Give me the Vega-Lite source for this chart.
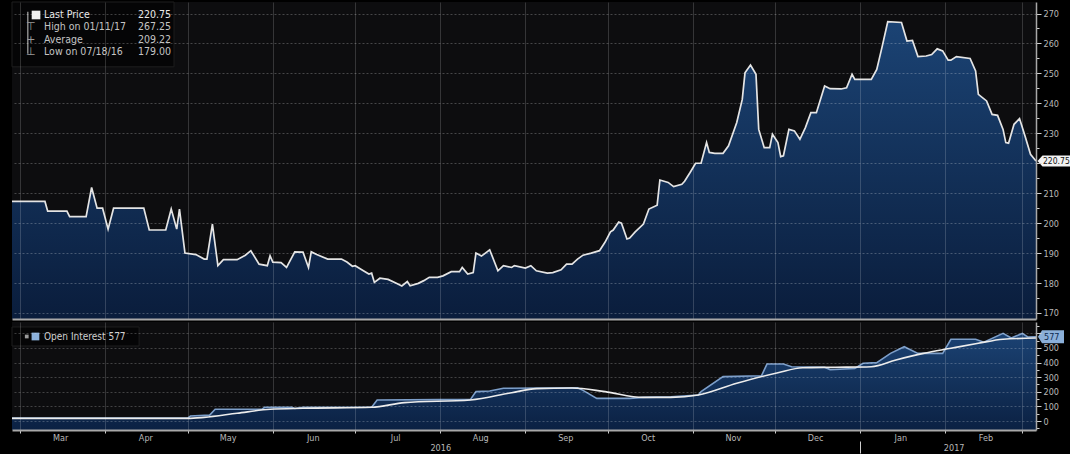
{
  "$schema": "https://vega.github.io/schema/vega-lite/v6.json",
  "background": "#000000",
  "padding": {"left": 8, "top": 1, "right": 0, "bottom": 0},
  "config": {
    "view": {"stroke": null, "fill": "#0d0d0f"},
    "font": "Liberation Sans Narrow, DejaVu Sans Condensed, sans-serif",
    "concat": {"spacing": 3}
  },
  "datasets": {
    "price": [
      {"date": "2016-02-27T00:00", "price": 207.25},
      {"date": "2016-03-10T00:00", "price": 207.25},
      {"date": "2016-03-11T00:00", "price": 204},
      {"date": "2016-03-18T00:00", "price": 204},
      {"date": "2016-03-19T00:00", "price": 202.2},
      {"date": "2016-03-25T00:00", "price": 202.2},
      {"date": "2016-03-27T00:00", "price": 211.9},
      {"date": "2016-03-29T00:00", "price": 205},
      {"date": "2016-03-31T00:00", "price": 205},
      {"date": "2016-04-02T00:00", "price": 198},
      {"date": "2016-04-04T00:00", "price": 205},
      {"date": "2016-04-15T00:00", "price": 205},
      {"date": "2016-04-17T00:00", "price": 197.7},
      {"date": "2016-04-23T00:00", "price": 197.7},
      {"date": "2016-04-25T00:00", "price": 204.7},
      {"date": "2016-04-27T00:00", "price": 198},
      {"date": "2016-04-28T00:00", "price": 204.7},
      {"date": "2016-04-30T00:00", "price": 190},
      {"date": "2016-05-04T00:00", "price": 189.5},
      {"date": "2016-05-07T00:00", "price": 188},
      {"date": "2016-05-08T00:00", "price": 188},
      {"date": "2016-05-10T00:00", "price": 199.7},
      {"date": "2016-05-12T00:00", "price": 185.8},
      {"date": "2016-05-14T00:00", "price": 187.8},
      {"date": "2016-05-19T00:00", "price": 187.8},
      {"date": "2016-05-22T00:00", "price": 189.3},
      {"date": "2016-05-24T00:00", "price": 190.8},
      {"date": "2016-05-27T00:00", "price": 186.3},
      {"date": "2016-05-30T00:00", "price": 185.8},
      {"date": "2016-05-31T00:00", "price": 189.1},
      {"date": "2016-06-01T00:00", "price": 187},
      {"date": "2016-06-04T00:00", "price": 186.8},
      {"date": "2016-06-06T00:00", "price": 185.2},
      {"date": "2016-06-09T00:00", "price": 190.4},
      {"date": "2016-06-12T00:00", "price": 190.3},
      {"date": "2016-06-14T00:00", "price": 185.2},
      {"date": "2016-06-15T00:00", "price": 190.4},
      {"date": "2016-06-17T00:00", "price": 189.5},
      {"date": "2016-06-21T00:00", "price": 188},
      {"date": "2016-06-26T00:00", "price": 188},
      {"date": "2016-06-28T00:00", "price": 187},
      {"date": "2016-06-30T00:00", "price": 185.6},
      {"date": "2016-07-01T00:00", "price": 185.8},
      {"date": "2016-07-04T00:00", "price": 184.1},
      {"date": "2016-07-06T00:00", "price": 183},
      {"date": "2016-07-07T00:00", "price": 183.3},
      {"date": "2016-07-08T00:00", "price": 180.2},
      {"date": "2016-07-10T00:00", "price": 181.6},
      {"date": "2016-07-13T00:00", "price": 181.2},
      {"date": "2016-07-16T00:00", "price": 179.9},
      {"date": "2016-07-18T00:00", "price": 179.0},
      {"date": "2016-07-20T00:00", "price": 180.5},
      {"date": "2016-07-21T00:00", "price": 179.1},
      {"date": "2016-07-24T00:00", "price": 179.9},
      {"date": "2016-07-26T00:00", "price": 180.8},
      {"date": "2016-07-28T00:00", "price": 181.9},
      {"date": "2016-07-31T00:00", "price": 181.9},
      {"date": "2016-08-02T00:00", "price": 182.4},
      {"date": "2016-08-05T00:00", "price": 183.8},
      {"date": "2016-08-08T00:00", "price": 183.8},
      {"date": "2016-08-09T00:00", "price": 185.2},
      {"date": "2016-08-11T00:00", "price": 183},
      {"date": "2016-08-13T00:00", "price": 183.5},
      {"date": "2016-08-14T00:00", "price": 190},
      {"date": "2016-08-16T00:00", "price": 189},
      {"date": "2016-08-19T00:00", "price": 191.1},
      {"date": "2016-08-22T00:00", "price": 184.1},
      {"date": "2016-08-24T00:00", "price": 185.8},
      {"date": "2016-08-27T00:00", "price": 185.2},
      {"date": "2016-08-28T00:00", "price": 185.8},
      {"date": "2016-09-01T00:00", "price": 185},
      {"date": "2016-09-03T00:00", "price": 185.8},
      {"date": "2016-09-05T00:00", "price": 184.1},
      {"date": "2016-09-09T00:00", "price": 183.3},
      {"date": "2016-09-11T00:00", "price": 183.5},
      {"date": "2016-09-14T00:00", "price": 184.4},
      {"date": "2016-09-16T00:00", "price": 186.3},
      {"date": "2016-09-18T00:00", "price": 186.3},
      {"date": "2016-09-20T00:00", "price": 188},
      {"date": "2016-09-22T00:00", "price": 189.3},
      {"date": "2016-09-25T00:00", "price": 190},
      {"date": "2016-09-28T00:00", "price": 190.8},
      {"date": "2016-09-30T00:00", "price": 193.6},
      {"date": "2016-10-02T00:00", "price": 197.1},
      {"date": "2016-10-03T00:00", "price": 197.7},
      {"date": "2016-10-05T00:00", "price": 200.4},
      {"date": "2016-10-06T00:00", "price": 200},
      {"date": "2016-10-08T00:00", "price": 194.7},
      {"date": "2016-10-09T00:00", "price": 195},
      {"date": "2016-10-11T00:00", "price": 197.1},
      {"date": "2016-10-14T00:00", "price": 199.7},
      {"date": "2016-10-16T00:00", "price": 204.7},
      {"date": "2016-10-19T00:00", "price": 206},
      {"date": "2016-10-20T00:00", "price": 214.4},
      {"date": "2016-10-23T00:00", "price": 213.6},
      {"date": "2016-10-25T00:00", "price": 212.2},
      {"date": "2016-10-28T00:00", "price": 213},
      {"date": "2016-10-29T00:00", "price": 214},
      {"date": "2016-10-31T00:00", "price": 216.9},
      {"date": "2016-11-02T00:00", "price": 220},
      {"date": "2016-11-04T00:00", "price": 220},
      {"date": "2016-11-06T00:00", "price": 226.9},
      {"date": "2016-11-07T00:00", "price": 223.6},
      {"date": "2016-11-09T00:00", "price": 223.3},
      {"date": "2016-11-12T00:00", "price": 223.3},
      {"date": "2016-11-14T00:00", "price": 225.8},
      {"date": "2016-11-17T00:00", "price": 233.6},
      {"date": "2016-11-19T00:00", "price": 241.3},
      {"date": "2016-11-20T00:00", "price": 250.2},
      {"date": "2016-11-22T00:00", "price": 252.8},
      {"date": "2016-11-24T00:00", "price": 249.7},
      {"date": "2016-11-25T00:00", "price": 231.3},
      {"date": "2016-11-27T00:00", "price": 225.2},
      {"date": "2016-11-29T00:00", "price": 225.2},
      {"date": "2016-11-30T00:00", "price": 229.7},
      {"date": "2016-12-02T00:00", "price": 226.9},
      {"date": "2016-12-03T00:00", "price": 222.2},
      {"date": "2016-12-04T00:00", "price": 222.5},
      {"date": "2016-12-06T00:00", "price": 231.3},
      {"date": "2016-12-08T00:00", "price": 230.8},
      {"date": "2016-12-10T00:00", "price": 228},
      {"date": "2016-12-12T00:00", "price": 231.9},
      {"date": "2016-12-14T00:00", "price": 236.9},
      {"date": "2016-12-16T00:00", "price": 236.9},
      {"date": "2016-12-19T00:00", "price": 245.8},
      {"date": "2016-12-21T00:00", "price": 244.9},
      {"date": "2016-12-25T00:00", "price": 244.8},
      {"date": "2016-12-27T00:00", "price": 245.2},
      {"date": "2016-12-29T00:00", "price": 249.7},
      {"date": "2016-12-30T00:00", "price": 248},
      {"date": "2017-01-02T00:00", "price": 248},
      {"date": "2017-01-05T00:00", "price": 248},
      {"date": "2017-01-07T00:00", "price": 251.3},
      {"date": "2017-01-09T00:00", "price": 259.1},
      {"date": "2017-01-11T00:00", "price": 267.25},
      {"date": "2017-01-16T00:00", "price": 267},
      {"date": "2017-01-18T00:00", "price": 260.8},
      {"date": "2017-01-20T00:00", "price": 261},
      {"date": "2017-01-22T00:00", "price": 255.6},
      {"date": "2017-01-25T00:00", "price": 255.8},
      {"date": "2017-01-27T00:00", "price": 256.3},
      {"date": "2017-01-29T00:00", "price": 258.2},
      {"date": "2017-01-31T00:00", "price": 257.5},
      {"date": "2017-02-02T00:00", "price": 254.4},
      {"date": "2017-02-03T00:00", "price": 254.4},
      {"date": "2017-02-05T00:00", "price": 255.6},
      {"date": "2017-02-10T00:00", "price": 255},
      {"date": "2017-02-12T00:00", "price": 250.8},
      {"date": "2017-02-13T00:00", "price": 243},
      {"date": "2017-02-16T00:00", "price": 240.8},
      {"date": "2017-02-18T00:00", "price": 236.3},
      {"date": "2017-02-20T00:00", "price": 236},
      {"date": "2017-02-22T00:00", "price": 231.3},
      {"date": "2017-02-23T00:00", "price": 226.9},
      {"date": "2017-02-24T00:00", "price": 226.7},
      {"date": "2017-02-26T00:00", "price": 233},
      {"date": "2017-02-28T00:00", "price": 234.9},
      {"date": "2017-03-02T00:00", "price": 229.1},
      {"date": "2017-03-04T00:00", "price": 223},
      {"date": "2017-03-06T00:00", "price": 220.75}
    ],
    "lastPrice": [
      {"date": "2017-03-06T00:00", "price": 220.75, "text": "220.75"}
    ],
    "priceLegendBox": [
      {"date": "2016-02-27T00:00", "date2": "2016-04-26T00:00", "price": 273.84, "price2": 252.2}
    ],
    "priceLegend": [
      {"date": "2016-03-09T16:00", "date2": "2016-04-24T22:00", "dateIcon": "2016-03-04T20:00", "price": 269.5, "label": "Last Price", "val": "220.75", "glyph": "", "color": "#e8e8e8"},
      {"date": "2016-03-09T16:00", "date2": "2016-04-24T22:00", "dateIcon": "2016-03-04T20:00", "price": 265.4, "label": "High on 01/11/17", "val": "267.25", "glyph": "⊤", "color": "#c4c4c4"},
      {"date": "2016-03-09T16:00", "date2": "2016-04-24T22:00", "dateIcon": "2016-03-04T20:00", "price": 261.25, "label": "Average", "val": "209.22", "glyph": "+", "color": "#c4c4c4"},
      {"date": "2016-03-09T16:00", "date2": "2016-04-24T22:00", "dateIcon": "2016-03-04T20:00", "price": 257.15, "label": "Low on 07/18/16", "val": "179.00", "glyph": "⊥", "color": "#c4c4c4"}
    ],
    "priceLegendSwatch": [
      {"date": "2016-03-06T18:00", "price": 269.5}
    ],
    "priceLegendStem": [
      {"date": "2016-03-03T18:00", "price": 270.6, "price2": 256.6}
    ],
    "oi": [
      {"date": "2016-02-27T00:00", "value": 20},
      {"date": "2016-05-01T00:00", "value": 20},
      {"date": "2016-05-02T00:00", "value": 34},
      {"date": "2016-05-09T00:00", "value": 40},
      {"date": "2016-05-11T00:00", "value": 80},
      {"date": "2016-05-28T00:00", "value": 80},
      {"date": "2016-05-29T00:00", "value": 94},
      {"date": "2016-06-08T00:00", "value": 94},
      {"date": "2016-06-09T00:00", "value": 86},
      {"date": "2016-06-12T00:00", "value": 94},
      {"date": "2016-07-07T00:00", "value": 94},
      {"date": "2016-07-09T00:00", "value": 144},
      {"date": "2016-08-12T00:00", "value": 148},
      {"date": "2016-08-14T00:00", "value": 201},
      {"date": "2016-08-19T00:00", "value": 205},
      {"date": "2016-08-24T00:00", "value": 224},
      {"date": "2016-09-20T00:00", "value": 228},
      {"date": "2016-09-22T00:00", "value": 210},
      {"date": "2016-09-27T00:00", "value": 155},
      {"date": "2016-10-09T00:00", "value": 155},
      {"date": "2016-10-14T00:00", "value": 162},
      {"date": "2016-10-24T00:00", "value": 165},
      {"date": "2016-11-03T00:00", "value": 178},
      {"date": "2016-11-04T00:00", "value": 201},
      {"date": "2016-11-12T00:00", "value": 304},
      {"date": "2016-11-26T00:00", "value": 310},
      {"date": "2016-11-28T00:00", "value": 390},
      {"date": "2016-12-04T00:00", "value": 390},
      {"date": "2016-12-07T00:00", "value": 372},
      {"date": "2016-12-19T00:00", "value": 368},
      {"date": "2016-12-21T00:00", "value": 352},
      {"date": "2016-12-30T00:00", "value": 360},
      {"date": "2017-01-02T00:00", "value": 395},
      {"date": "2017-01-07T00:00", "value": 400},
      {"date": "2017-01-12T00:00", "value": 463},
      {"date": "2017-01-17T00:00", "value": 509},
      {"date": "2017-01-22T00:00", "value": 463},
      {"date": "2017-01-31T00:00", "value": 463},
      {"date": "2017-02-03T00:00", "value": 560},
      {"date": "2017-02-12T00:00", "value": 560},
      {"date": "2017-02-15T00:00", "value": 540},
      {"date": "2017-02-22T00:00", "value": 600},
      {"date": "2017-02-25T00:00", "value": 568},
      {"date": "2017-03-01T00:00", "value": 600},
      {"date": "2017-03-03T00:00", "value": 575},
      {"date": "2017-03-06T00:00", "value": 577}
    ],
    "ma": [
      {"date": "2016-02-27T00:00", "value": 18},
      {"date": "2016-05-01T00:00", "value": 18},
      {"date": "2016-05-07T00:00", "value": 25},
      {"date": "2016-05-19T00:00", "value": 53},
      {"date": "2016-05-31T00:00", "value": 80},
      {"date": "2016-06-12T00:00", "value": 87},
      {"date": "2016-07-07T00:00", "value": 94},
      {"date": "2016-07-19T00:00", "value": 126},
      {"date": "2016-08-12T00:00", "value": 144},
      {"date": "2016-08-27T00:00", "value": 194},
      {"date": "2016-09-05T00:00", "value": 222},
      {"date": "2016-09-18T00:00", "value": 226},
      {"date": "2016-09-30T00:00", "value": 201},
      {"date": "2016-10-14T00:00", "value": 162},
      {"date": "2016-10-24T00:00", "value": 162},
      {"date": "2016-11-03T00:00", "value": 178},
      {"date": "2016-11-17T00:00", "value": 258},
      {"date": "2016-12-02T00:00", "value": 331},
      {"date": "2016-12-11T00:00", "value": 365},
      {"date": "2016-12-23T00:00", "value": 368},
      {"date": "2017-01-05T00:00", "value": 372},
      {"date": "2017-01-14T00:00", "value": 418},
      {"date": "2017-01-24T00:00", "value": 463},
      {"date": "2017-02-03T00:00", "value": 498},
      {"date": "2017-02-13T00:00", "value": 532},
      {"date": "2017-02-22T00:00", "value": 560},
      {"date": "2017-03-06T00:00", "value": 568}
    ],
    "lastOI": [
      {"date": "2017-03-06T00:00", "value": 577, "text": "577"}
    ],
    "oiLegendBox": [
      {"date": "2016-02-27T00:00", "date2": "2016-04-13T07:00", "value": 643.8, "value2": 513.6}
    ],
    "oiLegend": [
      {"date": "2016-03-09T16:00", "dateSwatch": "2016-03-06T13:00", "dateDot": "2016-03-03T09:00", "value": 578.7, "label": "Open Interest 577"}
    ]
  },
  "vconcat": [
    {
      "width": 1024,
      "height": 317,
      "encoding": {
        "x": {
          "field": "date", "type": "temporal",
          "scale": {"domain": [{"year": 2016, "month": 2, "date": 27}, {"year": 2017, "month": 3, "date": 6}]},
          "axis": {
            "orient": "bottom", "title": null, "labels": false, "ticks": false,
            "tickCount": {"interval": "month", "step": 1},
            "grid": true, "gridColor": "#ffffff", "gridOpacity": 0.17,
            "domainColor": "#a8a8a8", "domainWidth": 2, "zindex": 1
          }
        },
        "y": {
          "field": "price", "type": "quantitative",
          "scale": {"domain": [167.99, 273.84], "nice": false, "zero": false},
          "axis": {
            "orient": "right", "title": null,
            "values": [170, 175, 180, 185, 190, 195, 200, 205, 210, 215, 220, 225, 230, 235, 240, 245, 250, 255, 260, 265, 270],
            "labelExpr": "(datum.value % 10 == 0 && datum.value != 220) ? datum.label : ''",
            "tickSize": {"condition": {"test": "datum.value % 10 == 0", "value": 5}, "value": 3},
            "gridOpacity": {"condition": {"test": "datum.value % 10 == 0", "value": 0.24}, "value": 0},
            "grid": true, "gridColor": "#ffffff", "gridDash": [2, 2],
            "tickColor": "#d0d0d0", "domainColor": "#a8a8a8", "domainWidth": 1.5,
            "labelColor": "#b8b8b8", "labelFontSize": 9, "labelPadding": 2,
            "labelOverlap": false, "labelFlush": false, "zindex": 1
          }
        }
      },
      "layer": [
        {
          "data": {"name": "price"},
          "mark": {"type": "area", "color": {"gradient": "linear", "x1": 0, "y1": 0, "x2": 0, "y2": 1, "stops": [{"offset": 0, "color": "#1b4374"}, {"offset": 1, "color": "#0a1d3c"}]}},
          "encoding": {"y2": {"datum": 167.99}}
        },
        {
          "data": {"name": "price"},
          "mark": {"type": "line", "color": "#e4e4e4", "strokeWidth": 1.7}
        },
        {
          "data": {"name": "priceLegendBox"},
          "mark": {"type": "rect", "fill": "#050506", "stroke": "#1e1e1e", "strokeWidth": 1},
          "encoding": {"x2": {"field": "date2"}, "y2": {"field": "price2"}}
        },
        {
          "data": {"name": "priceLegendStem"},
          "mark": {"type": "rule", "color": "#8a8a8a", "strokeWidth": 1.5},
          "encoding": {"y2": {"field": "price2"}}
        },
        {
          "data": {"name": "priceLegendSwatch"},
          "mark": {"type": "point", "shape": "square", "filled": true, "color": "#f0f0f0", "size": 75, "opacity": 1},
          "encoding": {}
        },
        {
          "data": {"name": "priceLegend"},
          "mark": {"type": "text", "align": "center", "baseline": "middle", "fontSize": 11, "color": "#9a9a9a", "font": "DejaVu Sans"},
          "encoding": {"x": {"field": "dateIcon", "type": "temporal"}, "text": {"field": "glyph"}}
        },
        {
          "data": {"name": "priceLegend"},
          "mark": {"type": "text", "align": "left", "baseline": "middle", "fontSize": 10.5},
          "encoding": {"text": {"field": "label"}, "color": {"field": "color", "type": "nominal", "scale": null}}
        },
        {
          "data": {"name": "priceLegend"},
          "mark": {"type": "text", "align": "right", "baseline": "middle", "fontSize": 10.5},
          "encoding": {"x": {"field": "date2", "type": "temporal"}, "text": {"field": "val"}, "color": {"field": "color", "type": "nominal", "scale": null}}
        },
        {
          "data": {"name": "lastPrice"},
          "mark": {"type": "point", "shape": "M0.3,0L1.3,-1.1L7.5,-1.1L7.5,1.1L1.3,1.1Z", "filled": true, "color": "#f2f2f2", "size": 100, "opacity": 1, "strokeWidth": 0},
          "encoding": {}
        },
        {
          "data": {"name": "lastPrice"},
          "mark": {"type": "text", "align": "left", "baseline": "middle", "dx": 7, "fontSize": 8.5, "color": "#111111"},
          "encoding": {"text": {"field": "text"}}
        }
      ]
    },
    {
      "width": 1024,
      "height": 108,
      "encoding": {
        "y": {
          "field": "value", "type": "quantitative",
          "scale": {"domain": [-61.6, 678], "nice": false, "zero": false},
          "axis": {
            "orient": "right", "title": null,
            "values": [-50, 0, 50, 100, 150, 200, 250, 300, 350, 400, 450, 500, 550, 600, 650],
            "labelExpr": "(datum.value % 100 == 0 && datum.value >= 0 && datum.value <= 500) ? datum.label : ''",
            "tickSize": {"condition": {"test": "datum.value % 100 == 0", "value": 5}, "value": 3},
            "gridOpacity": {"condition": {"test": "datum.value % 100 == 0 && datum.value >= 0", "value": 0.22}, "value": 0},
            "grid": true, "gridColor": "#ffffff", "gridDash": [2, 2],
            "tickColor": "#d0d0d0", "domainColor": "#a8a8a8", "domainWidth": 1.5,
            "labelColor": "#b8b8b8", "labelFontSize": 9, "labelPadding": 2,
            "labelOverlap": false, "labelFlush": false, "zindex": 1
          }
        }
      },
      "layer": [
        {
          "data": {"name": "oi"},
          "mark": {"type": "area", "color": {"gradient": "linear", "x1": 0, "y1": 0, "x2": 0, "y2": 1, "stops": [{"offset": 0, "color": "#1b4273"}, {"offset": 1, "color": "#0b2143"}]}},
          "encoding": {
            "x": {
              "field": "date", "type": "temporal",
              "scale": {"domain": [{"year": 2016, "month": 2, "date": 27}, {"year": 2017, "month": 3, "date": 6}]},
              "axis": {
                "orient": "bottom", "title": null, "format": "%b",
                "tickCount": {"interval": "month", "step": 1},
                "labelExpr": "(year(datum.value) == 2017 && month(datum.value) == 2) ? '' : datum.label",
                "labelOffset": 40, "labelAlign": "center", "labelFlush": false, "labelOverlap": false,
                "labelColor": "#b8b8b8", "labelFontSize": 9, "labelPadding": 0,
                "tickSize": 3, "tickColor": "#cfcfcf",
                "grid": true, "gridColor": "#ffffff", "gridOpacity": 0.17,
                "domainColor": "#a8a8a8", "domainWidth": 2, "zindex": 1
              }
            },
            "y2": {"datum": -61.6}
          }
        },
        {
          "data": {"name": "oi"},
          "mark": {"type": "line", "color": "#7d9fca", "strokeWidth": 1.6},
          "encoding": {"x": {"field": "date", "type": "temporal", "axis": null}}
        },
        {
          "data": {"name": "ma"},
          "mark": {"type": "line", "color": "#ececec", "strokeWidth": 1.6, "interpolate": "monotone"},
          "encoding": {
            "x": {
              "field": "date", "type": "temporal",
              "axis": {
                "orient": "bottom", "title": null, "domain": false, "grid": false,
                "values": [{"year": 2016, "month": 8, "date": 1}, {"year": 2017, "month": 1, "date": 1}, {"year": 2017, "month": 2, "date": 4}],
                "labelExpr": "year(datum.value) == 2016 ? '2016' : (month(datum.value) == 1 ? '2017' : '')",
                "tickOpacity": {"condition": {"test": "month(datum.value) == 0", "value": 1}, "value": 0},
                "tickSize": 12, "tickColor": "#cfcfcf", "offset": 11,
                "labelPadding": -10, "labelFlush": false, "labelOverlap": false,
                "labelColor": "#b8b8b8", "labelFontSize": 9, "labelAlign": "center"
              }
            }
          }
        },
        {
          "data": {"name": "oiLegendBox"},
          "mark": {"type": "rect", "fill": "#050506", "stroke": "#1e1e1e", "strokeWidth": 1},
          "encoding": {"x": {"field": "date", "type": "temporal", "axis": null}, "x2": {"field": "date2"}, "y2": {"field": "value2"}}
        },
        {
          "data": {"name": "oiLegend"},
          "mark": {"type": "point", "shape": "square", "filled": true, "color": "#9a9a9a", "size": 14, "opacity": 1},
          "encoding": {"x": {"field": "dateDot", "type": "temporal", "axis": null}}
        },
        {
          "data": {"name": "oiLegend"},
          "mark": {"type": "point", "shape": "square", "filled": true, "color": "#8bb0da", "size": 60, "opacity": 1},
          "encoding": {"x": {"field": "dateSwatch", "type": "temporal", "axis": null}}
        },
        {
          "data": {"name": "oiLegend"},
          "mark": {"type": "text", "align": "left", "baseline": "middle", "fontSize": 10, "color": "#d0d0d0"},
          "encoding": {"x": {"field": "date", "type": "temporal", "axis": null}, "text": {"field": "label"}}
        },
        {
          "data": {"name": "lastOI"},
          "mark": {"type": "point", "shape": "M0.4,0L1.2,-1.3L5.6,-1.3L5.6,1.3L1.2,1.3Z", "filled": true, "color": "#8bb0da", "size": 100, "opacity": 1, "strokeWidth": 0},
          "encoding": {"x": {"field": "date", "type": "temporal", "axis": null}}
        },
        {
          "data": {"name": "lastOI"},
          "mark": {"type": "text", "align": "left", "baseline": "middle", "dx": 8, "fontSize": 9, "color": "#0d2a50"},
          "encoding": {"x": {"field": "date", "type": "temporal", "axis": null}, "text": {"field": "text"}}
        }
      ],
      "resolve": {"axis": {"x": "independent"}}
    }
  ]
}
